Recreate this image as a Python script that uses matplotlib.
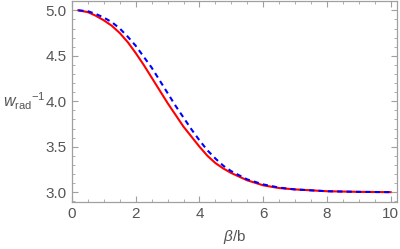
import numpy as np
import matplotlib
matplotlib.use("Agg")
import matplotlib.pyplot as plt
from matplotlib.ticker import MultipleLocator

plt.rcParams['font.family'] = ['Liberation Sans', 'DejaVu Sans']
plt.rcParams['mathtext.fontset'] = 'custom'
plt.rcParams['mathtext.rm'] = 'Liberation Sans'
plt.rcParams['mathtext.it'] = 'Liberation Sans:italic'

# values
beta = [0.2, 0.5, 0.75, 1.0, 1.25, 1.5, 1.75, 2.0, 2.25, 2.5, 2.75, 3.0, 3.25, 3.5, 3.75,
        4.0, 4.25, 4.5, 4.75, 5.0, 5.5, 6.0, 6.5, 7.0, 7.5, 8.0, 9.0, 10.0]
w_red = [5.00, 4.98, 4.94, 4.89, 4.83, 4.75, 4.65, 4.53, 4.40, 4.26, 4.12, 3.98, 3.85, 3.72, 3.61,
         3.50, 3.40, 3.32, 3.26, 3.21, 3.13, 3.075, 3.045, 3.03, 3.02, 3.01, 3.003, 3.00]
w_blue = [5.00, 4.99, 4.96, 4.92, 4.87, 4.80, 4.71, 4.61, 4.49, 4.37, 4.23, 4.09, 3.95, 3.82, 3.69,
          3.57, 3.46, 3.37, 3.29, 3.23, 3.14, 3.085, 3.05, 3.03, 3.02, 3.01, 3.003, 3.00]

frame_col = '#a0a0a0'
text_col = '#555555'

fig = plt.figure(figsize=(4.0, 2.49), dpi=100)
ax = fig.add_axes([0.18, 0.19, 0.8125, 0.805])

ax.plot(beta, w_red, color='red', lw=1.5, solid_joinstyle='round')
ax.plot(beta, w_blue, color='blue', lw=1.5, dashes=(2.5, 2))

ax.set_xlim(0, 10.2)
ax.set_ylim(2.895, 5.1)
ax.xaxis.set_minor_locator(MultipleLocator(0.5))
ax.yaxis.set_minor_locator(MultipleLocator(0.1))
ax.set_xticks([0, 2, 4, 6, 8, 10])
ax.set_xticklabels(['0', '2', '4', '6', '8', '10'])
ax.set_yticks([3.0, 3.5, 4.0, 4.5, 5.0])
ax.set_yticklabels(['3.0', '3.5', '4.0', '4.5', '5.0'])

for s in ax.spines.values():
    s.set_color(frame_col)
    s.set_linewidth(0.9)
ax.tick_params(which='both', direction='in', top=True, right=True, color=frame_col,
               labelcolor=text_col, labelsize=11)
ax.tick_params(which='major', length=4, width=0.8, pad=4)
ax.tick_params(which='minor', length=2, width=0.6)

ax.set_xlabel(r'$\beta$/b', color=text_col, fontsize=11, labelpad=5)
fig.text(0.008, 0.595, r'$w_{\mathrm{rad}}{}^{-1}$', color=text_col, fontsize=11.5, va='center')

plt.savefig('out.png', dpi=100)
